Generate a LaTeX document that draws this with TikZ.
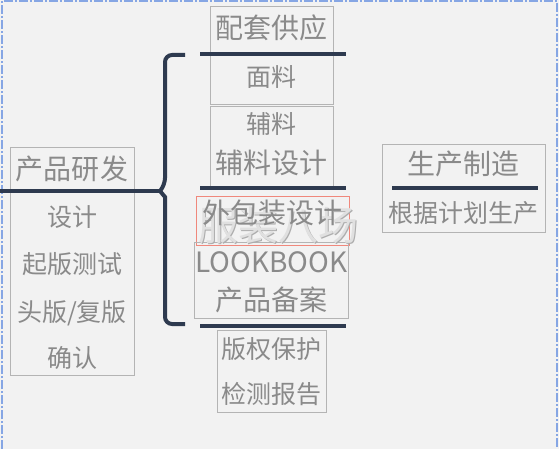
\documentclass[tikz,border=0pt]{standalone}
\usepackage{fontspec}
\setmainfont{Noto Sans CJK SC}
\usepackage{tikz}
\usepackage{xcolor}

\definecolor{bggray}{HTML}{F2F2F2}
\definecolor{boxgray}{HTML}{B4B4B4}
\definecolor{txtgray}{HTML}{8A8A8A}
\definecolor{navy}{HTML}{2E3A4F}
\definecolor{frameblue}{HTML}{86A6E4}
\definecolor{redline}{HTML}{F0887C}

\tikzset{
  box/.style={draw=boxgray, line width=0.8pt, inner sep=0pt},
  head/.style={text=txtgray, font=\fontsize{28}{30}\selectfont, inner sep=0pt},
  item/.style={text=txtgray, font=\fontsize{25}{27}\selectfont, inner sep=0pt},
  bar/.style={draw=navy, line width=4pt},
}

\begin{document}
\begin{tikzpicture}[x=1pt, y=-1pt]
	\fill[bggray] (0,0) rectangle (559,449);
	\useasboundingbox (0,0) rectangle (559,449);
	% dashed frame of the page
	\draw[frameblue, line width=1.5pt, dash pattern=on 9pt off 2pt on 2pt off 2pt] (2,449) -- (2,1) -- (557,1) -- (557,449);

	% boxes
	\node[box, minimum width=123pt, minimum height=98pt] (supply) at (271.5,55) {};
	\node[box, minimum width=123pt, minimum height=80pt] (trims) at (271.5,146) {};
	\node[box, draw=redline, minimum width=153pt, minimum height=49pt] (pack) at (272.5,220.5) {};
	\node[box, minimum width=154pt, minimum height=76pt] (look) at (271,280) {};
	\node[box, minimum width=109pt, minimum height=82pt] (rights) at (271.5,371) {};
	\node[box, minimum width=124pt, minimum height=228pt] (dev) at (72,261) {};
	\node[box, minimum width=163pt, minimum height=88pt] (prod) at (463.5,188) {};

	% watermark
	\node[text=black!32, font=\fontsize{40}{40}\selectfont] (markshade) at (279.5,226.5) {服装八场};
	\node[text=black!12, font=\fontsize{40}{40}\selectfont] (mark) at (278,225) {服装八场};

	% texts
	\node[head] (supplyhead) at (271.5,27.5) {配套供应};
	\node[item] (fabric) at (271.5,77) {面料};
	\node[item] (trimshead) at (271.5,124) {辅料};
	\node[head] (trimsdesign) at (271.5,163) {辅料设计};
	\node[head] (packdesign) at (272.5,213) {外包装设计};
	\node[head] (lookbook) at (271.5,262) {LOOKBOOK};
	\node[head] (record) at (271.5,300) {产品备案};
	\node[item] (copyright) at (271.5,349) {版权保护};
	\node[item] (report) at (271.5,394) {检测报告};

	\node[head] (devhead) at (72,169) {产品研发};
	\node[item] (design) at (72,217) {设计};
	\node[item] (sampletest) at (72,264) {起版测试};
	\node[item] (firstsample) at (72,313) {头版/复版};
	\node[item] (confirm) at (72,358) {确认};

	\node[head] (prodhead) at (463.5,164) {生产制造};
	\node[item] (plan) at (463.5,213) {根据计划生产};

	% separators
	\draw[bar] (200,54) -- (346,54);
	\draw[bar] (200,188) -- (346,188);
	\draw[bar] (200,326) -- (346,326);
	\draw[bar] (392,188) -- (538,188);

	% brace and its link
	\coordinate (cusp) at (160,191);
	\draw[bar] (185,55) [rounded corners=7pt] -- (165,55) -- (165,185) [sharp corners] -- (cusp) -- (165,197) [rounded corners=7pt] -- (165,324) -- (185,324);
	\draw[bar] (0,191) -- (cusp);
\end{tikzpicture}
\end{document}
